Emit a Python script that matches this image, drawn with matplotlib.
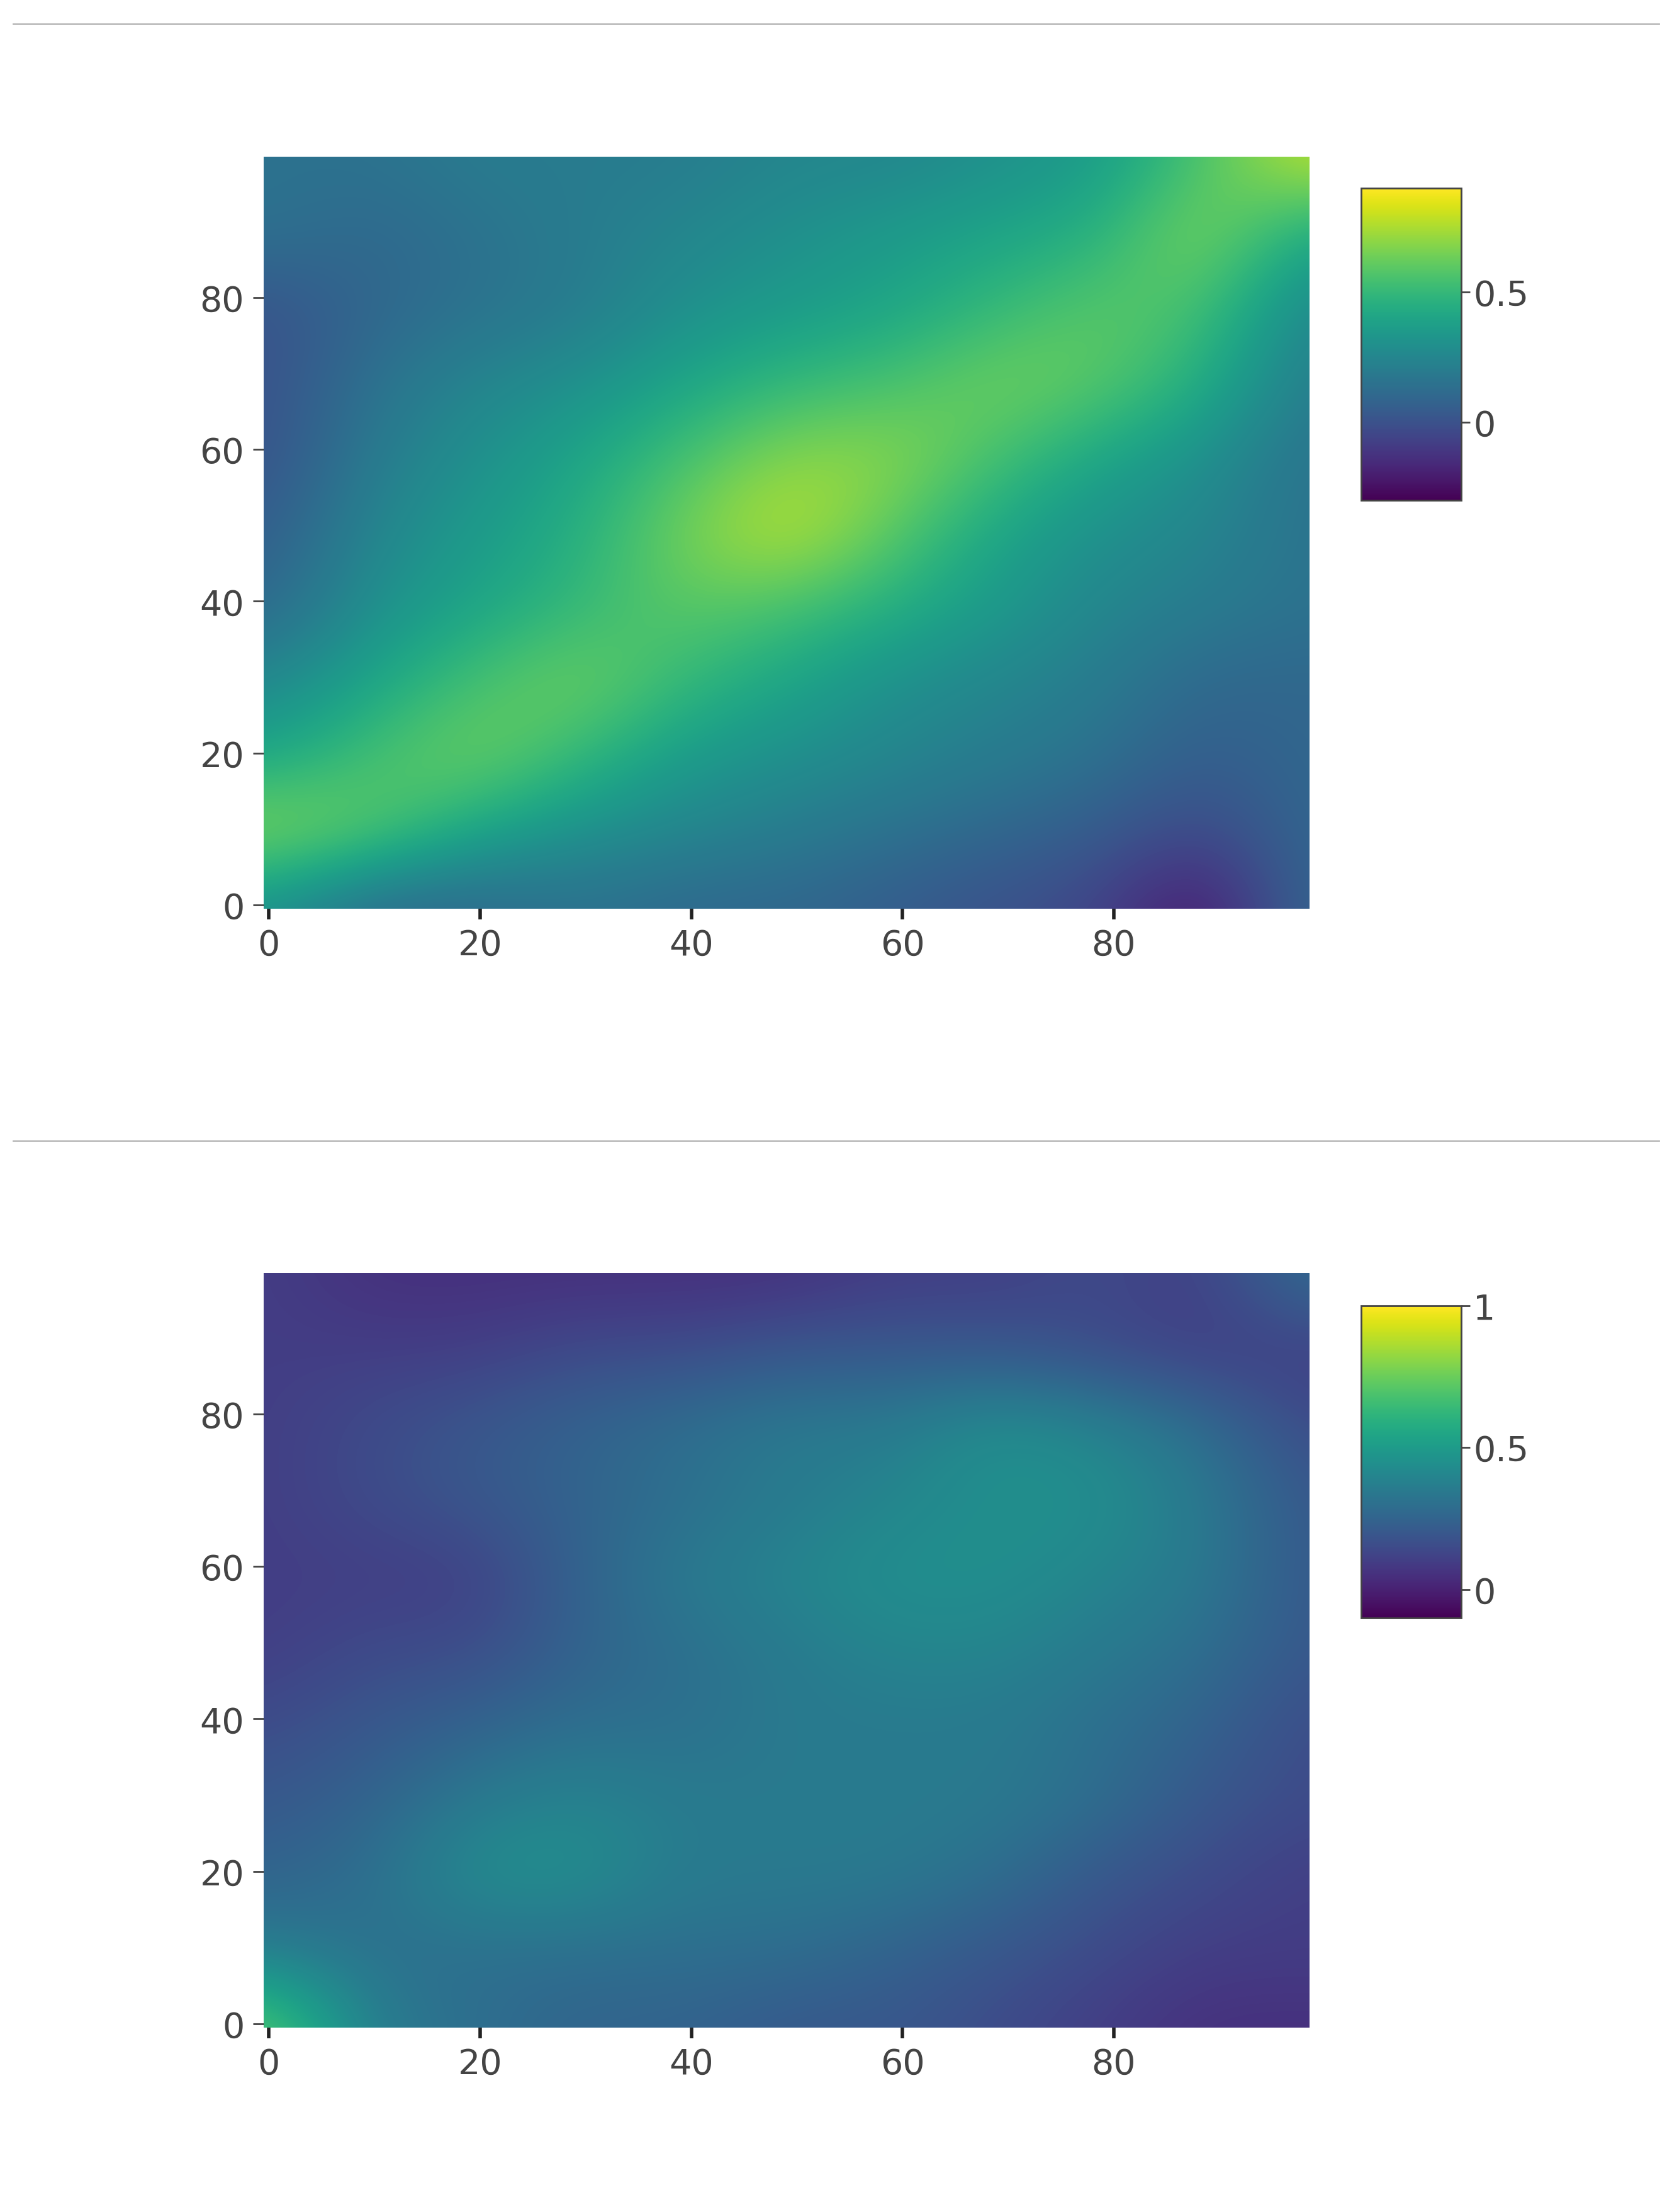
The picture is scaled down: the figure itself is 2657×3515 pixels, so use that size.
import numpy as np
import matplotlib
matplotlib.use("Agg")
import matplotlib.pyplot as plt
from matplotlib.lines import Line2D

grid_pos = [0, 10, 20, 30, 40, 50, 60, 70, 80, 90, 98]

top_values = [
    [0.3, 0.1, 0.1, 0.15, 0.1, 0.1, 0.05, 0.0, -0.05, -0.25, 0.1],
    [0.7, 0.6, 0.4, 0.3, 0.25, 0.2, 0.15, 0.1, 0.05, -0.05, 0.1],
    [0.4, 0.55, 0.65, 0.5, 0.35, 0.3, 0.25, 0.2, 0.15, 0.05, 0.1],
    [0.25, 0.4, 0.55, 0.65, 0.5, 0.4, 0.3, 0.25, 0.2, 0.1, 0.1],
    [0.1, 0.3, 0.4, 0.5, 0.6, 0.55, 0.45, 0.35, 0.25, 0.2, 0.15],
    [0.05, 0.25, 0.35, 0.45, 0.65, 0.8, 0.6, 0.4, 0.3, 0.25, 0.15],
    [0.0, 0.2, 0.3, 0.4, 0.55, 0.7, 0.7, 0.55, 0.4, 0.3, 0.15],
    [0.0, 0.15, 0.25, 0.3, 0.4, 0.5, 0.55, 0.65, 0.6, 0.45, 0.2],
    [0.0, 0.1, 0.15, 0.2, 0.3, 0.35, 0.4, 0.5, 0.6, 0.55, 0.25],
    [0.15, 0.1, 0.15, 0.2, 0.25, 0.3, 0.35, 0.4, 0.45, 0.7, 0.4],
    [0.15, 0.15, 0.2, 0.2, 0.2, 0.25, 0.25, 0.3, 0.35, 0.55, 0.8],
]

bottom_values = [
    [0.75, 0.35, 0.3, 0.25, 0.25, 0.2, 0.2, 0.15, 0.1, 0.05, 0.05],
    [0.35, 0.3, 0.3, 0.3, 0.3, 0.3, 0.25, 0.2, 0.15, 0.1, 0.1],
    [0.25, 0.3, 0.45, 0.45, 0.35, 0.35, 0.35, 0.3, 0.2, 0.15, 0.1],
    [0.2, 0.25, 0.35, 0.4, 0.35, 0.35, 0.35, 0.35, 0.3, 0.2, 0.15],
    [0.15, 0.2, 0.25, 0.3, 0.3, 0.35, 0.35, 0.35, 0.3, 0.25, 0.15],
    [0.1, 0.15, 0.15, 0.25, 0.3, 0.35, 0.4, 0.4, 0.35, 0.3, 0.2],
    [0.1, 0.1, 0.1, 0.25, 0.35, 0.4, 0.45, 0.45, 0.4, 0.35, 0.2],
    [0.1, 0.15, 0.2, 0.25, 0.3, 0.35, 0.4, 0.45, 0.45, 0.35, 0.2],
    [0.1, 0.15, 0.2, 0.25, 0.3, 0.35, 0.35, 0.45, 0.4, 0.3, 0.15],
    [0.1, 0.1, 0.1, 0.15, 0.15, 0.2, 0.2, 0.2, 0.15, 0.1, 0.1],
    [0.1, 0.05, 0.05, 0.05, 0.05, 0.05, 0.1, 0.1, 0.15, 0.1, 0.3],
]

axis_ticks = [0, 20, 40, 60, 80]
top_cb_ticks = [0, 0.5]
bottom_cb_ticks = [0, 0.5, 1]

fig = plt.figure(figsize=(26.57, 35.16), dpi=100)
grey = "#444444"

def panel(rect, cbrect, values, vmin, vmax, cbticks):
    ax = fig.add_axes(rect)
    im = ax.imshow(np.array(values), origin="lower", cmap="viridis", vmin=vmin, vmax=vmax,
                   extent=[-4.9, 102.9, -4.9, 102.9], interpolation="bicubic", aspect="auto")
    ax.set_xlim(-0.5, 98.5)
    ax.set_ylim(-0.5, 98.5)
    for s in ax.spines.values():
        s.set_visible(False)
    ax.set_xticks(axis_ticks)
    ax.set_yticks(axis_ticks)
    ax.tick_params(axis="both", labelsize=40, colors=grey, length=12, width=2, pad=10)
    ax.tick_params(axis="x", width=4, color="#222222")
    cax = fig.add_axes(cbrect)
    cb = fig.colorbar(im, cax=cax, ticks=cbticks)
    cb.ax.set_yticklabels([("%g" % t) for t in cbticks])
    cb.outline.set_edgecolor(grey)
    cb.outline.set_linewidth(2)
    cb.ax.tick_params(labelsize=40, colors=grey, length=10, width=2)

panel([0.1576, 0.589, 0.6254, 0.3398], [0.814, 0.7737, 0.06, 0.141], top_values, -0.3, 0.9, top_cb_ticks)
panel([0.1576, 0.0833, 0.6254, 0.3411], [0.814, 0.2686, 0.06, 0.141], bottom_values, -0.1, 1.0, bottom_cb_ticks)

for y in [0.989, 0.484]:
    fig.add_artist(Line2D([0.008, 0.992], [y, y], color="#bbbbbb", lw=2))

fig.savefig("out.png", dpi=100)
